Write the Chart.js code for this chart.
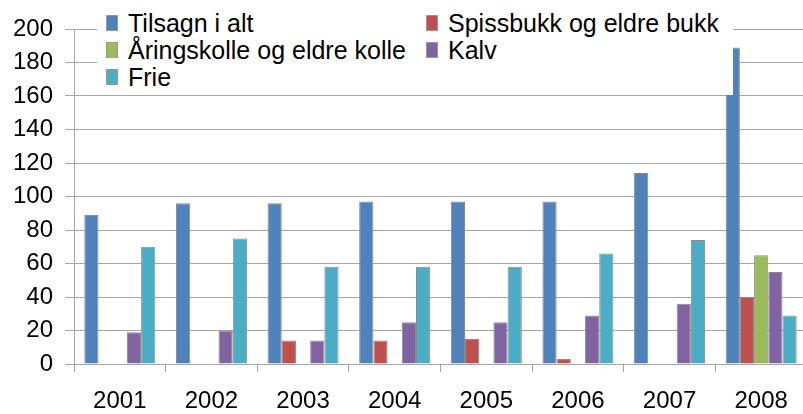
<!DOCTYPE html>
<html>
<head>
<meta charset="utf-8">
<script src="https://cdn.jsdelivr.net/npm/chart.js@4"></script>
<style>
  html, body { margin: 0; padding: 0; background: #fff; overflow: hidden; }
  #wrap { position: relative; width: 803px; height: 414px; overflow: hidden; }
  #legend {
    position: absolute; left: 97px; top: 5px; width: 636px; height: 90px;
    background: #fff; font-family: "Liberation Sans", Arial, sans-serif; font-size: 25px; color: #000;
  }
  .item { position: absolute; height: 27px; line-height: 27px; white-space: nowrap; }
  .box { position: absolute; left: 0; top: 5px; width: 12px; height: 16px; border: 1px solid #999; box-sizing: border-box; }
  .lbl { position: absolute; left: 22px; top: 0; }
</style>
</head>
<body>
<div id="wrap">
  <canvas id="G1" width="812" height="414"></canvas>
  <div id="legend"></div>
</div>
<script>
const years = ['2001', '2002', '2003', '2004', '2005', '2006', '2007', '2008'];
const tilsagn = [89, 96, 96, 97, 97, 97, 114, 189];
const spissbukk = [null, null, 14, 14, 15, 3, null, 40];
const aringskolle = [null, null, null, null, null, null, null, 65];
const kalv = [19, 20, 14, 25, 25, 29, 36, 55];
const frie = [70, 75, 58, 58, 58, 66, 74, 29];
const yTicks = [0, 20, 40, 60, 80, 100, 120, 140, 160, 180, 200];

const names = ['Tilsagn i alt', 'Spissbukk og eldre bukk', 'Åringskolle og eldre kolle', 'Kalv', 'Frie'];
const colors = ['#4F81BD', '#C0504D', '#9BBB59', '#8064A2', '#4BACC6'];
const series = [tilsagn, spissbukk, aringskolle, kalv, frie];

const gridCol = '#a6a6a6';
const tickFont = { family: 'Liberation Sans', size: 24 };

const cfg = {
  type: 'bar',
  data: {
    labels: years,
    datasets: series.map((d, i) => ({
      label: names[i],
      data: d,
      backgroundColor: colors[i],
      borderColor: '#8a8a8a',
      borderWidth: 1,
      categoryPercentage: 0.775,
      barPercentage: 1.0
    }))
  },
  options: {
    responsive: false,
    animation: false,
    devicePixelRatio: 1,
    layout: { padding: { top: 29, right: 5, left: 0, bottom: 0 } },
    plugins: { legend: { display: false }, tooltip: { enabled: false } },
    scales: {
      x: {
        grid: { display: true, drawOnChartArea: false, offset: true, color: gridCol, tickLength: 8 },
        border: { color: gridCol },
        ticks: { color: '#000', font: tickFont, padding: 15, maxRotation: 0 },
        afterFit: s => { s.height = 50; }
      },
      y: {
        min: 0, max: 200,
        afterBuildTicks: s => { s.ticks = yTicks.map(v => ({ value: v })); },
        grid: { color: gridCol, tickLength: 9 },
        border: { color: gridCol },
        ticks: { color: '#000', font: tickFont, padding: 12 },
        afterFit: s => { s.width = 74; }
      }
    }
  }
};

const chart = new Chart(document.getElementById('G1'), cfg);

// legend in two columns, laid over the plot with white background
const pos = [[9, 5], [329, 5], [9, 32], [329, 32], [9, 59]];
const leg = document.getElementById('legend');
chart.data.datasets.forEach((ds, i) => {
  const it = document.createElement('div');
  it.className = 'item';
  it.style.left = pos[i][0] + 'px';
  it.style.top = pos[i][1] + 'px';
  it.innerHTML = '<span class="box" style="background:' + ds.backgroundColor + '"></span><span class="lbl"></span>';
  it.querySelector('.lbl').textContent = ds.label;
  leg.appendChild(it);
});
</script>
</body>
</html>
